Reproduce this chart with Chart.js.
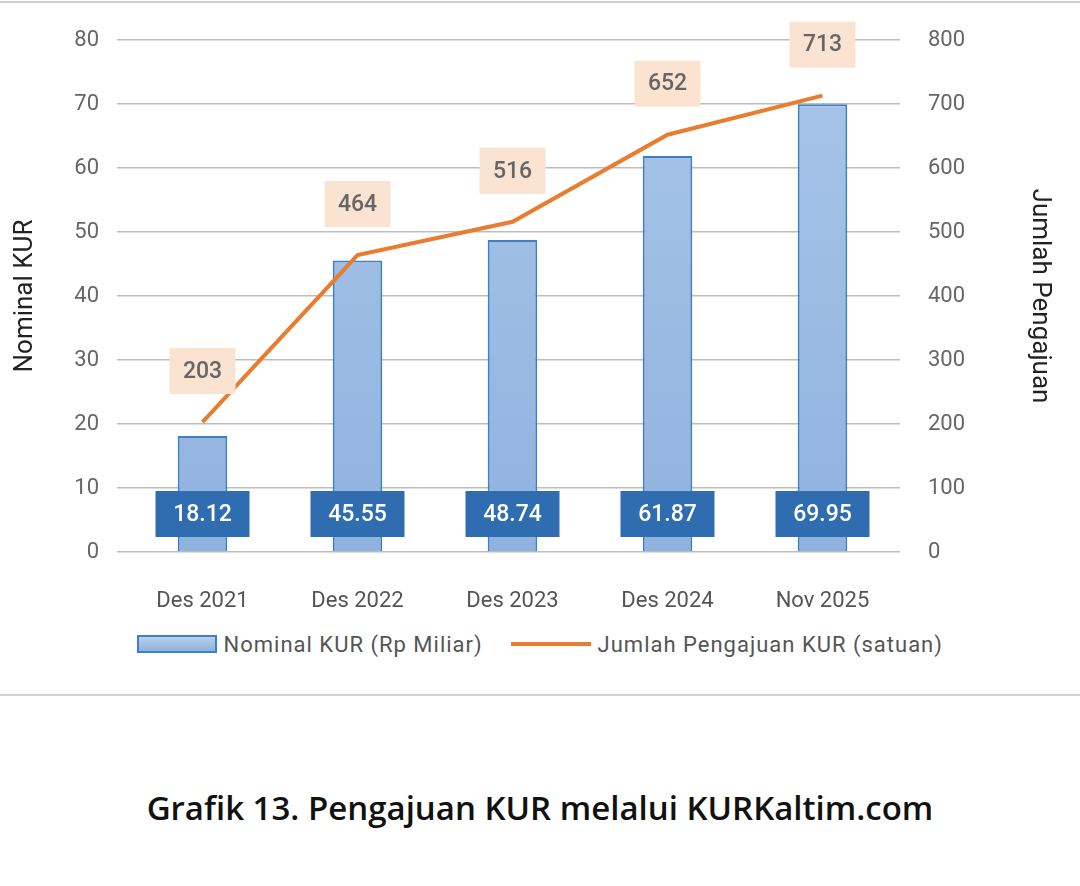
<!DOCTYPE html>
<html><head><meta charset="utf-8">
<script src="https://cdn.jsdelivr.net/npm/chart.js@4"></script>
<style>
body{margin:0;width:1080px;height:886px;background:#fff;font-family:Roboto,sans-serif;position:relative;overflow:hidden}
#top{position:absolute;left:0;top:1px;width:1080px;height:2px;background:#d0d0d0}
#bot{position:absolute;left:0;top:694px;width:1080px;height:2px;background:#d0d0d0}
#wrap{position:absolute;left:0;top:0;width:1080px;height:620px}
#legend{position:absolute;top:630px;left:0;width:1080px;text-align:center;font-size:22px;color:#555;letter-spacing:1px}
#legend span{display:inline-block;vertical-align:middle}
#cap{position:absolute;top:785px;left:0;width:1080px;text-align:center;font-family:"Open Sans",sans-serif;font-weight:600;font-size:33px;color:#111}
</style></head><body>
<div id="top"></div>
<div id="wrap"><canvas id="c"></canvas></div>
<div id="legend">
<span style="width:76px;height:14px;border:2px solid #3f7fc4;background:linear-gradient(#b8d0ec,#8fb3de)"></span>
<span>Nominal KUR (Rp Miliar)</span>
<span style="width:80px;height:4px;background:#e97d2f;margin-left:22px"></span>
<span>Jumlah Pengajuan KUR (satuan)</span>
</div>
<div id="bot"></div>
<div id="cap">Grafik 13. Pengajuan KUR melalui KURKaltim.com</div>
<script>
const categories = ['Des 2021','Des 2022','Des 2023','Des 2024','Nov 2025'];
const nominal = [18.12, 45.55, 48.74, 61.87, 69.95];
const jumlah = [203, 464, 516, 652, 713];

const labelPlugin = {
  id: 'labels',
  afterDatasetsDraw(chart) {
    const ctx = chart.ctx;
    ctx.save();
    ctx.textAlign = 'center'; ctx.textBaseline = 'middle';
    chart.getDatasetMeta(0).data.forEach((b, i) => {
      ctx.fillStyle = '#2f6db0';
      ctx.fillRect(b.x - 47, 491, 94, 46);
      ctx.fillStyle = '#fff'; ctx.font = '500 23px Roboto';
      ctx.fillText(nominal[i].toFixed(2), b.x, 515);
    });
    chart.getDatasetMeta(1).data.forEach((p, i) => {
      ctx.fillStyle = '#fbe3d2';
      ctx.fillRect(p.x - 33, p.y - 74, 66, 46);
      ctx.fillStyle = '#666'; ctx.font = '500 23px Roboto';
      ctx.fillText(jumlah[i], p.x, p.y - 50);
    });
    ctx.restore();
  }
};

new Chart(document.getElementById('c'), {
  data: {
    labels: categories,
    datasets: [
      { type: 'bar', data: nominal, yAxisID: 'y', order: 2, barPercentage: 0.32, categoryPercentage: 1,
        borderColor: '#3f7fc4', borderWidth: 2,
        backgroundColor: (c) => {
          const a = c.chart.chartArea; if (!a) return '#a7c3e6';
          const g = c.chart.ctx.createLinearGradient(0, a.top, 0, a.bottom);
          g.addColorStop(0, '#a9c6ea'); g.addColorStop(1, '#8fb2de'); return g;
        } },
      { type: 'line', data: jumlah, yAxisID: 'y1', order: 1, borderColor: '#e97d2f', borderWidth: 4,
        pointRadius: 0, tension: 0 }
    ]
  },
  options: {
    responsive: true, maintainAspectRatio: false, animation: false,
    layout: { padding: { left: 10, right: 5, top: 40, bottom: 8 } },
    plugins: { legend: { display: false }, tooltip: { enabled: false } },
    scales: {
      x: { grid: { display: false }, border: { display: false },
        ticks: { color: '#555', font: { size: 22, family: 'Roboto' }, padding: 28 },
        afterFit: s => { s.height = 60; } },
      y: { position: 'left', min: 0, max: 80, border: { display: false },
        grid: { color: '#bdbdbd', lineWidth: 1.5 },
        ticks: { stepSize: 10, color: '#666', font: { size: 22, family: 'Roboto' }, padding: 18 },
        title: { display: true, text: 'Nominal KUR', color: '#222', font: { size: 26, family: 'Roboto' }, padding: 0 },
        afterFit: s => { s.width = 115; } },
      y1: { position: 'right', min: 0, max: 800, border: { display: false },
        grid: { display: false },
        ticks: { stepSize: 100, color: '#666', font: { size: 22, family: 'Roboto' }, padding: 20 },
        title: { display: true, text: 'Jumlah Pengajuan', color: '#222', font: { size: 26, family: 'Roboto' }, padding: { top: 20 } },
        afterFit: s => { s.width = 175; } }
    }
  },
  plugins: [labelPlugin]
});
</script>
</body></html>
